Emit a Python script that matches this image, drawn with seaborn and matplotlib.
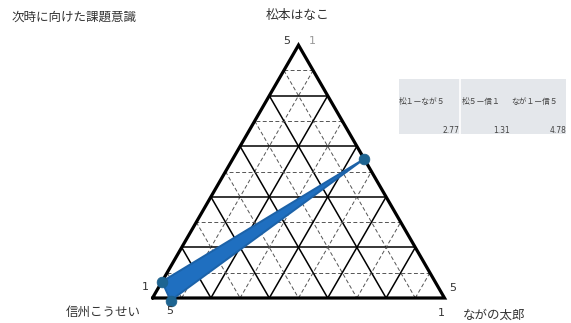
"""Ternary chart: 次時に向けた課題意識 (three evaluators)."""

import matplotlib

matplotlib.use("Agg")
import matplotlib.pyplot as plt
import numpy as np
import seaborn as sns

sns.set_theme(style="white")
plt.rcParams["font.family"] = ["Noto Sans CJK JP", "DejaVu Sans"]

# ---------------------------------------------------------------------------
# Data
# ---------------------------------------------------------------------------

title = "次時に向けた課題意識"
corner_names = ["松本はなこ", "ながの太郎", "信州こうせい"]  # top, right, left

# barycentric fractions of each marker: (top, right, left)
point_top = [0.55, 0.065, -0.01]
point_right = [0.45, 0.00, 0.067]
point_left = [0.00, 0.935, 0.943]

table_headers = ["松１ーなが５", "松５ー信１", "なが１ー信５"]
table_values = [2.77, 1.31, 4.78]

n_div = 10

# ---------------------------------------------------------------------------
# Helpers
# ---------------------------------------------------------------------------

H = np.sqrt(3) / 2
TOP = np.array([0.5, H])
RIGHT = np.array([1.0, 0.0])
LEFT = np.array([0.0, 0.0])


def to_xy(t, r, l):
    t, r, l = np.asarray(t), np.asarray(r), np.asarray(l)
    s = t + r + l
    x = (t * TOP[0] + r * RIGHT[0] + l * LEFT[0]) / s
    y = (t * TOP[1] + r * RIGHT[1] + l * LEFT[1]) / s
    return x, y


W, HPX = 571, 323
fig = plt.figure(figsize=(W / 100, HPX / 100), dpi=100)
ax = fig.add_axes([0, 0, 1, 1])
scale = 292.0
x0, y0 = 152.5, 298.0
ax.set_xlim(-x0 / scale, (W - x0) / scale)
ax.set_ylim((y0 - HPX) / scale, y0 / scale)
ax.axis("off")

# grid lines: solid every 2 steps, dashed in between
for i in range(1, n_div):
    f = i / n_div
    solid = i % 2 == 0
    style = dict(
        color="black" if solid else "#555555",
        lw=1.1 if solid else 0.7,
        ls="-" if solid else (0, (4, 2.5)),
        zorder=1,
    )
    for a, b, c in [(0, 1, 2), (1, 2, 0), (2, 0, 1)]:
        p1 = [0.0, 0.0, 0.0]
        p2 = [0.0, 0.0, 0.0]
        p1[a], p1[b] = f, 1 - f
        p2[a], p2[c] = f, 1 - f
        xs, ys = to_xy(*zip(p1, p2))
        ax.plot(xs, ys, **style)

# outer triangle
tri = np.array([LEFT, RIGHT, TOP, LEFT])
ax.plot(tri[:, 0], tri[:, 1], color="black", lw=2.3, zorder=2,
        solid_joinstyle="miter")

# data polygon
px, py = to_xy(point_top, point_right, point_left)
ax.fill(px, py, facecolor="#1f6fc0", edgecolor="#1c62a8", lw=1.4, zorder=3,
        joinstyle="round")
sns.scatterplot(x=px, y=py, ax=ax, s=60, color="#1d6491", edgecolor="#1d5f8a",
                linewidth=0.5, zorder=4, legend=False)


def fig_text(xp, yp, s, **kw):
    fig.text(xp / W, 1 - yp / HPX, s, **kw)


# labels
fig_text(12, 17, title, fontsize=9, color="#333333", va="center")
fig_text(298, 15, corner_names[0], fontsize=9.2, color="#333333",
         ha="center", va="center")
fig_text(463, 315, corner_names[1], fontsize=9, color="#333333", va="center")
fig_text(141, 312, corner_names[2], fontsize=9, color="#333333",
         ha="right", va="center")

num_kw = dict(fontsize=8, va="center", family="DejaVu Sans")
fig_text(287, 41, "5", ha="center", color="#333333", **num_kw)
fig_text(312, 41, "1", ha="center", color="#999999", **num_kw)
fig_text(145, 287, "1", ha="center", color="#333333", **num_kw)
fig_text(170, 311, "5", ha="center", color="#333333", **num_kw)
fig_text(453, 288, "5", ha="center", color="#333333", **num_kw)
fig_text(441, 313, "1", ha="center", color="#333333", **num_kw)

# small summary table
tbl_ax = fig.add_axes([399 / W, 1 - 134 / HPX, (566 - 399) / W, 55 / HPX])
tbl_ax.set_xlim(399, 566)
tbl_ax.set_ylim(134, 79)
tbl_ax.axis("off")
tbl_ax.axvspan(399, 566, color="#e4e7eb", zorder=0)
tbl_ax.axvline(460.5, color="white", lw=1.2, zorder=1)
col_left = [399, 462, 511]
col_right = [459, 510, 566]
for xl, xr, head, val in zip(col_left, col_right, table_headers, table_values):
    tbl_ax.text(xl, 102, head, fontsize=5.6, color="#444444", va="center")
    tbl_ax.text(xr, 130, f"{val:.2f}", fontsize=5.5, color="#444444",
                ha="right", va="center", family="DejaVu Sans")

fig.savefig("out.png", dpi=100, facecolor="white")
